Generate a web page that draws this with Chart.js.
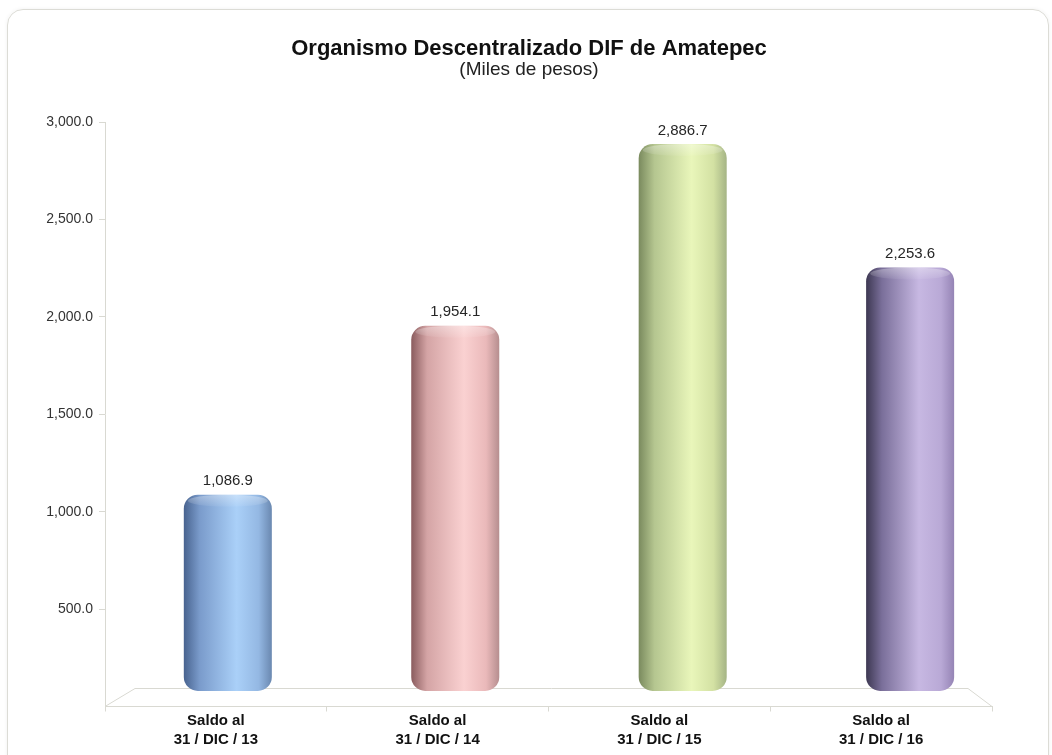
<!DOCTYPE html>
<html lang="es">
<head>
  <meta charset="UTF-8">
  <title>Organismo Descentralizado DIF de Amatepec</title>
  <script src="https://cdn.jsdelivr.net/npm/chart.js@4.4.2/dist/chart.umd.min.js"></script>
  <style>
    html, body { margin: 0; padding: 0; background: #fff; overflow: hidden; }
    .card {
      position: absolute;
      left: 7px; top: 9px;
      width: 1040px; height: 760px;
      border: 1px solid #dcdcd6;
      border-radius: 16px;
      box-shadow: 0 0 4px rgba(0,0,0,0.06);
    }
    .wrap { position: absolute; left: 0; top: 0; width: 1052px; height: 755px; }
  </style>
</head>
<body>
<div class="card"></div>
<div class="wrap"><canvas id="chart" width="1052" height="755"></canvas></div>
<script>
  // data
  const categories = [
    ['Saldo al', '31 / DIC / 13'],
    ['Saldo al', '31 / DIC / 14'],
    ['Saldo al', '31 / DIC / 15'],
    ['Saldo al', '31 / DIC / 16']
  ];
  const values = [1086.9, 1954.1, 2886.7, 2253.6];
  const tickValues = [500, 1000, 1500, 2000, 2500, 3000];

  // cylinder shading, left edge -> highlight -> right edge
  const barShades = [
    ['#48638f', '#7a9bcb', '#aad0f8', '#94b8e3', '#6a88b0'],
    ['#8a5c5e', '#d4a4a5', '#fad1d1', '#eab9ba', '#b68e8f'],
    ['#7a8a5e', '#b5c690', '#e9f6ba', '#d3e1a3', '#a5b485'],
    ['#3d3852', '#7a6f9a', '#c7b8e2', '#b9a9d6', '#9584b5']
  ];

  const fmt = v => v.toLocaleString('en-US', { minimumFractionDigits: 1, maximumFractionDigits: 1 });

  const cylinderPlugin = {
    id: 'cylinder',
    beforeDatasetsDraw(chart) {
      const ctx = chart.ctx;
      const a = chart.chartArea;
      // floor of the 3D plot
      ctx.save();
      ctx.strokeStyle = '#d9d9d2';
      ctx.lineWidth = 1;
      ctx.beginPath();
      ctx.moveTo(a.left, a.bottom);
      ctx.lineTo(a.left + 30, a.bottom - 18);
      ctx.lineTo(a.right - 24, a.bottom - 18);
      ctx.lineTo(a.right, a.bottom);
      ctx.stroke();
      ctx.restore();

      const meta = chart.getDatasetMeta(0);
      meta.data.forEach((el, i) => {
        const x0 = el.x - el.width / 2, x1 = el.x + el.width / 2;
        const g = ctx.createLinearGradient(x0, 0, x1, 0);
        const s = barShades[i];
        g.addColorStop(0, s[0]);
        g.addColorStop(0.18, s[1]);
        g.addColorStop(0.6, s[2]);
        g.addColorStop(0.85, s[3]);
        g.addColorStop(1, s[4]);
        el.options.backgroundColor = g;
      });
    },
    afterDatasetsDraw(chart) {
      const ctx = chart.ctx;
      const meta = chart.getDatasetMeta(0);
      ctx.save();
      ctx.font = '15px "Liberation Sans", Arial, sans-serif';
      ctx.textAlign = 'center';
      ctx.textBaseline = 'bottom';
      meta.data.forEach((el, i) => {
        // soft highlight on the rounded top
        const w = el.width;
        const hg = ctx.createLinearGradient(0, el.y, 0, el.y + 14);
        hg.addColorStop(0, 'rgba(255,255,255,0.35)');
        hg.addColorStop(1, 'rgba(255,255,255,0)');
        ctx.fillStyle = hg;
        ctx.beginPath();
        ctx.ellipse(el.x, el.y + 6, w / 2 - 4, 6, 0, 0, Math.PI * 2);
        ctx.fill();
        ctx.fillStyle = '#262626';
        ctx.fillText(fmt(values[i]), el.x, el.y - 6);
      });
      ctx.restore();
    }
  };

  new Chart(document.getElementById('chart'), {
    type: 'bar',
    data: {
      labels: categories,
      datasets: [{
        data: values.map((v, i) => ({ x: i, y: v })),
        xAxisID: 'xb',
        base: 80,
        backgroundColor: c => barShades[c.dataIndex][2],
        borderWidth: 0,
        borderRadius: 14,
        borderSkipped: false,
        barPercentage: 0.387,
        categoryPercentage: 1
      }]
    },
    options: {
      responsive: false,
      animation: false,
      devicePixelRatio: 1,
      layout: { padding: { top: 38, left: 36, right: 30, bottom: 6 } },
      plugins: {
        legend: { display: false },
        tooltip: { enabled: false },
        title: {
          display: true,
          text: 'Organismo Descentralizado DIF de Amatepec',
          color: '#111',
          font: { family: '"Liberation Sans", Arial, sans-serif', size: 22, weight: 'bold', lineHeight: 1 },
          padding: { top: 0, bottom: 0 }
        },
        subtitle: {
          display: true,
          text: '(Miles de pesos)',
          color: '#222',
          font: { family: '"Liberation Sans", Arial, sans-serif', size: 19, lineHeight: 1 },
          padding: { top: 0, bottom: 43 }
        }
      },
      scales: {
        x: {
          border: { color: '#d9d9d2' },
          grid: { drawOnChartArea: false, tickLength: 5, color: '#d9d9d2' },
          ticks: {
            color: '#111',
            padding: 0,
            font: { family: '"Liberation Sans", Arial, sans-serif', size: 15, weight: 'bold', lineHeight: 1.25 }
          }
        },
        // bars sit a little to the right of the labels, as in the 3D original
        xb: {
          type: 'linear',
          display: false,
          offset: false,
          min: -0.54,
          max: 3.36,
          afterBuildTicks: axis => { axis.ticks = values.map((v, i) => ({ value: i })); }
        },
        y: {
          min: 0,
          max: 3000,
          border: { color: '#d9d9d2' },
          grid: { drawOnChartArea: false, tickLength: 6, color: '#d9d9d2' },
          afterBuildTicks: axis => { axis.ticks = tickValues.map(v => ({ value: v })); },
          afterFit: axis => { axis.width = 69; },
          ticks: {
            color: '#333',
            padding: 6,
            font: { family: '"Liberation Sans", Arial, sans-serif', size: 14 },
            callback: v => fmt(v)
          }
        },
        // empty right-hand axis: keeps the plot edge where it is while the title stays centred like the original
        yr: {
          position: 'right',
          display: true,
          grid: { display: false },
          border: { display: false },
          ticks: { display: false },
          afterFit: axis => { axis.width = 30; }
        }
      }
    },
    plugins: [cylinderPlugin]
  });
</script>
</body>
</html>
